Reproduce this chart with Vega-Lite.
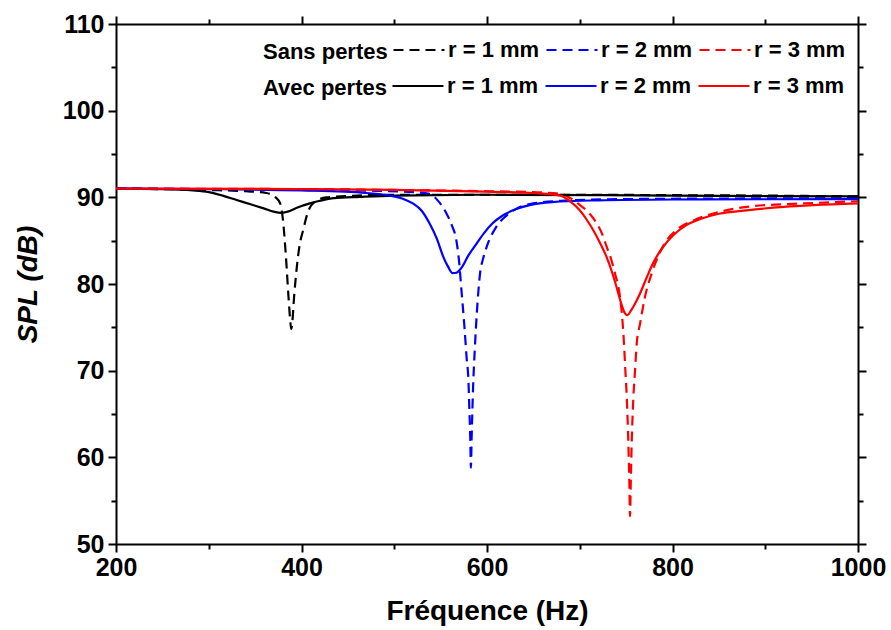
{
  "$schema": "https://vega.github.io/schema/vega-lite/v6.json",
  "width": 742,
  "height": 520,
  "autosize": "none",
  "padding": {"left": 116, "top": 24, "right": 33, "bottom": 86},
  "background": "white",
  "config": {
    "view": {"stroke": null},
    "font": "Liberation Sans",
    "axis": {
      "grid": false,
      "domainColor": "black",
      "domainWidth": 2,
      "tickColor": "black",
      "tickWidth": 2,
      "labelColor": "black",
      "titleColor": "black",
      "labelFont": "Liberation Sans",
      "labelFontWeight": "bold",
      "labelFontSize": 25,
      "titleFont": "Liberation Sans",
      "titleFontWeight": "bold",
      "titleFontSize": 28,
      "labelFlush": false,
      "labelOverlap": false,
      "format": "d"
    },
    "legend": {
      "orient": "none",
      "direction": "horizontal",
      "titleOrient": "left",
      "titleAnchor": "middle",
      "titleBaseline": "top",
      "titleFont": "Liberation Sans",
      "titleFontWeight": "bold",
      "titleFontSize": 22,
      "titleColor": "black",
      "labelFont": "Liberation Sans",
      "labelFontWeight": "bold",
      "labelFontSize": 22,
      "labelColor": "black",
      "symbolType": "stroke",
      "symbolSize": 2600,
      "symbolStrokeWidth": 2.2,
      "labelOffset": 2,
      "columnPadding": 2,
      "titlePadding": 4,
      "padding": 0
    }
  },
  "data": {
    "values": [
      {"perte": "Sans", "r": "r = 1 mm", "f": 200, "spl": 91.0},
      {"perte": "Sans", "r": "r = 1 mm", "f": 250, "spl": 90.95},
      {"perte": "Sans", "r": "r = 1 mm", "f": 300, "spl": 90.85},
      {"perte": "Sans", "r": "r = 1 mm", "f": 340, "spl": 90.7},
      {"perte": "Sans", "r": "r = 1 mm", "f": 362, "spl": 90.5},
      {"perte": "Sans", "r": "r = 1 mm", "f": 372, "spl": 90.0},
      {"perte": "Sans", "r": "r = 1 mm", "f": 377, "spl": 89.3},
      {"perte": "Sans", "r": "r = 1 mm", "f": 380, "spl": 87.4},
      {"perte": "Sans", "r": "r = 1 mm", "f": 383, "spl": 83.5},
      {"perte": "Sans", "r": "r = 1 mm", "f": 386, "spl": 78.5},
      {"perte": "Sans", "r": "r = 1 mm", "f": 388, "spl": 75.6},
      {"perte": "Sans", "r": "r = 1 mm", "f": 389, "spl": 74.8},
      {"perte": "Sans", "r": "r = 1 mm", "f": 390, "spl": 75.5},
      {"perte": "Sans", "r": "r = 1 mm", "f": 392, "spl": 78.5},
      {"perte": "Sans", "r": "r = 1 mm", "f": 395, "spl": 82.0},
      {"perte": "Sans", "r": "r = 1 mm", "f": 398, "spl": 84.5},
      {"perte": "Sans", "r": "r = 1 mm", "f": 402, "spl": 86.3},
      {"perte": "Sans", "r": "r = 1 mm", "f": 406, "spl": 88.0},
      {"perte": "Sans", "r": "r = 1 mm", "f": 410, "spl": 89.0},
      {"perte": "Sans", "r": "r = 1 mm", "f": 418, "spl": 89.7},
      {"perte": "Sans", "r": "r = 1 mm", "f": 427, "spl": 90.0},
      {"perte": "Sans", "r": "r = 1 mm", "f": 460, "spl": 90.2},
      {"perte": "Sans", "r": "r = 1 mm", "f": 500, "spl": 90.3},
      {"perte": "Sans", "r": "r = 1 mm", "f": 600, "spl": 90.3},
      {"perte": "Sans", "r": "r = 1 mm", "f": 700, "spl": 90.3},
      {"perte": "Sans", "r": "r = 1 mm", "f": 800, "spl": 90.25},
      {"perte": "Sans", "r": "r = 1 mm", "f": 900, "spl": 90.2},
      {"perte": "Sans", "r": "r = 1 mm", "f": 1000, "spl": 90.1},

      {"perte": "Sans", "r": "r = 2 mm", "f": 200, "spl": 91.0},
      {"perte": "Sans", "r": "r = 2 mm", "f": 300, "spl": 90.95},
      {"perte": "Sans", "r": "r = 2 mm", "f": 400, "spl": 90.85},
      {"perte": "Sans", "r": "r = 2 mm", "f": 480, "spl": 90.75},
      {"perte": "Sans", "r": "r = 2 mm", "f": 520, "spl": 90.6},
      {"perte": "Sans", "r": "r = 2 mm", "f": 538, "spl": 90.4},
      {"perte": "Sans", "r": "r = 2 mm", "f": 548, "spl": 89.5},
      {"perte": "Sans", "r": "r = 2 mm", "f": 556, "spl": 88.2},
      {"perte": "Sans", "r": "r = 2 mm", "f": 562, "spl": 86.8},
      {"perte": "Sans", "r": "r = 2 mm", "f": 567, "spl": 85.0},
      {"perte": "Sans", "r": "r = 2 mm", "f": 570, "spl": 82.5},
      {"perte": "Sans", "r": "r = 2 mm", "f": 572.5, "spl": 79.2},
      {"perte": "Sans", "r": "r = 2 mm", "f": 576, "spl": 74.6},
      {"perte": "Sans", "r": "r = 2 mm", "f": 578, "spl": 71.5},
      {"perte": "Sans", "r": "r = 2 mm", "f": 580, "spl": 68.8},
      {"perte": "Sans", "r": "r = 2 mm", "f": 581, "spl": 65.5},
      {"perte": "Sans", "r": "r = 2 mm", "f": 582, "spl": 62.0},
      {"perte": "Sans", "r": "r = 2 mm", "f": 582.6, "spl": 58.8},
      {"perte": "Sans", "r": "r = 2 mm", "f": 583.5, "spl": 62.5},
      {"perte": "Sans", "r": "r = 2 mm", "f": 585, "spl": 68.1},
      {"perte": "Sans", "r": "r = 2 mm", "f": 587, "spl": 72.8},
      {"perte": "Sans", "r": "r = 2 mm", "f": 589, "spl": 76.6},
      {"perte": "Sans", "r": "r = 2 mm", "f": 592.5, "spl": 81.2},
      {"perte": "Sans", "r": "r = 2 mm", "f": 596, "spl": 83.0},
      {"perte": "Sans", "r": "r = 2 mm", "f": 600, "spl": 84.4},
      {"perte": "Sans", "r": "r = 2 mm", "f": 610, "spl": 86.6},
      {"perte": "Sans", "r": "r = 2 mm", "f": 620, "spl": 87.8},
      {"perte": "Sans", "r": "r = 2 mm", "f": 632, "spl": 88.7},
      {"perte": "Sans", "r": "r = 2 mm", "f": 650, "spl": 89.3},
      {"perte": "Sans", "r": "r = 2 mm", "f": 680, "spl": 89.6},
      {"perte": "Sans", "r": "r = 2 mm", "f": 750, "spl": 89.8},
      {"perte": "Sans", "r": "r = 2 mm", "f": 1000, "spl": 89.9},

      {"perte": "Sans", "r": "r = 3 mm", "f": 200, "spl": 91.0},
      {"perte": "Sans", "r": "r = 3 mm", "f": 400, "spl": 90.95},
      {"perte": "Sans", "r": "r = 3 mm", "f": 500, "spl": 90.85},
      {"perte": "Sans", "r": "r = 3 mm", "f": 600, "spl": 90.7},
      {"perte": "Sans", "r": "r = 3 mm", "f": 650, "spl": 90.6},
      {"perte": "Sans", "r": "r = 3 mm", "f": 680, "spl": 90.4},
      {"perte": "Sans", "r": "r = 3 mm", "f": 690, "spl": 89.9},
      {"perte": "Sans", "r": "r = 3 mm", "f": 700.3, "spl": 89.1},
      {"perte": "Sans", "r": "r = 3 mm", "f": 710, "spl": 88.2},
      {"perte": "Sans", "r": "r = 3 mm", "f": 718.3, "spl": 87.0},
      {"perte": "Sans", "r": "r = 3 mm", "f": 724, "spl": 85.8},
      {"perte": "Sans", "r": "r = 3 mm", "f": 729, "spl": 84.3},
      {"perte": "Sans", "r": "r = 3 mm", "f": 734, "spl": 82.8},
      {"perte": "Sans", "r": "r = 3 mm", "f": 738, "spl": 81.2},
      {"perte": "Sans", "r": "r = 3 mm", "f": 743.4, "spl": 78.5},
      {"perte": "Sans", "r": "r = 3 mm", "f": 746.3, "spl": 75.4},
      {"perte": "Sans", "r": "r = 3 mm", "f": 747.7, "spl": 73.1},
      {"perte": "Sans", "r": "r = 3 mm", "f": 749.2, "spl": 70.0},
      {"perte": "Sans", "r": "r = 3 mm", "f": 750.7, "spl": 66.9},
      {"perte": "Sans", "r": "r = 3 mm", "f": 752.4, "spl": 61.6},
      {"perte": "Sans", "r": "r = 3 mm", "f": 753.5, "spl": 57.0},
      {"perte": "Sans", "r": "r = 3 mm", "f": 754.2, "spl": 53.2},
      {"perte": "Sans", "r": "r = 3 mm", "f": 755, "spl": 57.0},
      {"perte": "Sans", "r": "r = 3 mm", "f": 756, "spl": 61.6},
      {"perte": "Sans", "r": "r = 3 mm", "f": 757.8, "spl": 66.9},
      {"perte": "Sans", "r": "r = 3 mm", "f": 759.6, "spl": 70.0},
      {"perte": "Sans", "r": "r = 3 mm", "f": 761.4, "spl": 73.1},
      {"perte": "Sans", "r": "r = 3 mm", "f": 765, "spl": 75.4},
      {"perte": "Sans", "r": "r = 3 mm", "f": 770.3, "spl": 78.5},
      {"perte": "Sans", "r": "r = 3 mm", "f": 777.5, "spl": 81.2},
      {"perte": "Sans", "r": "r = 3 mm", "f": 790, "spl": 84.4},
      {"perte": "Sans", "r": "r = 3 mm", "f": 805, "spl": 86.3},
      {"perte": "Sans", "r": "r = 3 mm", "f": 822, "spl": 87.3},
      {"perte": "Sans", "r": "r = 3 mm", "f": 850, "spl": 88.3},
      {"perte": "Sans", "r": "r = 3 mm", "f": 880, "spl": 88.9},
      {"perte": "Sans", "r": "r = 3 mm", "f": 920, "spl": 89.2},
      {"perte": "Sans", "r": "r = 3 mm", "f": 952, "spl": 89.35},
      {"perte": "Sans", "r": "r = 3 mm", "f": 1000, "spl": 89.55},

      {"perte": "Avec", "r": "r = 1 mm", "f": 200, "spl": 91.0},
      {"perte": "Avec", "r": "r = 1 mm", "f": 250, "spl": 90.95},
      {"perte": "Avec", "r": "r = 1 mm", "f": 283, "spl": 90.8},
      {"perte": "Avec", "r": "r = 1 mm", "f": 300, "spl": 90.6},
      {"perte": "Avec", "r": "r = 1 mm", "f": 315, "spl": 90.2},
      {"perte": "Avec", "r": "r = 1 mm", "f": 330, "spl": 89.7},
      {"perte": "Avec", "r": "r = 1 mm", "f": 345, "spl": 89.2},
      {"perte": "Avec", "r": "r = 1 mm", "f": 360, "spl": 88.7},
      {"perte": "Avec", "r": "r = 1 mm", "f": 370, "spl": 88.35},
      {"perte": "Avec", "r": "r = 1 mm", "f": 378, "spl": 88.2},
      {"perte": "Avec", "r": "r = 1 mm", "f": 385, "spl": 88.35},
      {"perte": "Avec", "r": "r = 1 mm", "f": 395, "spl": 88.8},
      {"perte": "Avec", "r": "r = 1 mm", "f": 409, "spl": 89.3},
      {"perte": "Avec", "r": "r = 1 mm", "f": 420, "spl": 89.6},
      {"perte": "Avec", "r": "r = 1 mm", "f": 435, "spl": 89.9},
      {"perte": "Avec", "r": "r = 1 mm", "f": 463, "spl": 90.05},
      {"perte": "Avec", "r": "r = 1 mm", "f": 500, "spl": 90.2},
      {"perte": "Avec", "r": "r = 1 mm", "f": 600, "spl": 90.3},
      {"perte": "Avec", "r": "r = 1 mm", "f": 800, "spl": 90.2},
      {"perte": "Avec", "r": "r = 1 mm", "f": 1000, "spl": 90.1},

      {"perte": "Avec", "r": "r = 2 mm", "f": 200, "spl": 91.0},
      {"perte": "Avec", "r": "r = 2 mm", "f": 300, "spl": 90.95},
      {"perte": "Avec", "r": "r = 2 mm", "f": 400, "spl": 90.8},
      {"perte": "Avec", "r": "r = 2 mm", "f": 470, "spl": 90.5},
      {"perte": "Avec", "r": "r = 2 mm", "f": 495, "spl": 90.2},
      {"perte": "Avec", "r": "r = 2 mm", "f": 510, "spl": 89.8},
      {"perte": "Avec", "r": "r = 2 mm", "f": 520, "spl": 89.3},
      {"perte": "Avec", "r": "r = 2 mm", "f": 530, "spl": 88.4},
      {"perte": "Avec", "r": "r = 2 mm", "f": 538, "spl": 87.0},
      {"perte": "Avec", "r": "r = 2 mm", "f": 546, "spl": 85.2},
      {"perte": "Avec", "r": "r = 2 mm", "f": 553, "spl": 83.1},
      {"perte": "Avec", "r": "r = 2 mm", "f": 558, "spl": 82.0},
      {"perte": "Avec", "r": "r = 2 mm", "f": 563, "spl": 81.25},
      {"perte": "Avec", "r": "r = 2 mm", "f": 567, "spl": 81.3},
      {"perte": "Avec", "r": "r = 2 mm", "f": 572, "spl": 81.8},
      {"perte": "Avec", "r": "r = 2 mm", "f": 580, "spl": 83.3},
      {"perte": "Avec", "r": "r = 2 mm", "f": 589, "spl": 84.7},
      {"perte": "Avec", "r": "r = 2 mm", "f": 597, "spl": 85.9},
      {"perte": "Avec", "r": "r = 2 mm", "f": 606, "spl": 87.0},
      {"perte": "Avec", "r": "r = 2 mm", "f": 617, "spl": 87.9},
      {"perte": "Avec", "r": "r = 2 mm", "f": 628, "spl": 88.5},
      {"perte": "Avec", "r": "r = 2 mm", "f": 646, "spl": 89.1},
      {"perte": "Avec", "r": "r = 2 mm", "f": 670, "spl": 89.45},
      {"perte": "Avec", "r": "r = 2 mm", "f": 720, "spl": 89.65},
      {"perte": "Avec", "r": "r = 2 mm", "f": 800, "spl": 89.75},
      {"perte": "Avec", "r": "r = 2 mm", "f": 1000, "spl": 89.8},

      {"perte": "Avec", "r": "r = 3 mm", "f": 200, "spl": 91.0},
      {"perte": "Avec", "r": "r = 3 mm", "f": 400, "spl": 90.95},
      {"perte": "Avec", "r": "r = 3 mm", "f": 500, "spl": 90.85},
      {"perte": "Avec", "r": "r = 3 mm", "f": 600, "spl": 90.65},
      {"perte": "Avec", "r": "r = 3 mm", "f": 650, "spl": 90.5},
      {"perte": "Avec", "r": "r = 3 mm", "f": 679, "spl": 90.2},
      {"perte": "Avec", "r": "r = 3 mm", "f": 690, "spl": 89.5},
      {"perte": "Avec", "r": "r = 3 mm", "f": 700, "spl": 88.5},
      {"perte": "Avec", "r": "r = 3 mm", "f": 707, "spl": 87.5},
      {"perte": "Avec", "r": "r = 3 mm", "f": 714.6, "spl": 86.2},
      {"perte": "Avec", "r": "r = 3 mm", "f": 722, "spl": 84.7},
      {"perte": "Avec", "r": "r = 3 mm", "f": 729, "spl": 83.1},
      {"perte": "Avec", "r": "r = 3 mm", "f": 735, "spl": 81.3},
      {"perte": "Avec", "r": "r = 3 mm", "f": 739.8, "spl": 79.6},
      {"perte": "Avec", "r": "r = 3 mm", "f": 744, "spl": 78.0},
      {"perte": "Avec", "r": "r = 3 mm", "f": 748.8, "spl": 76.6},
      {"perte": "Avec", "r": "r = 3 mm", "f": 751.4, "spl": 76.4},
      {"perte": "Avec", "r": "r = 3 mm", "f": 755, "spl": 76.9},
      {"perte": "Avec", "r": "r = 3 mm", "f": 760, "spl": 77.8},
      {"perte": "Avec", "r": "r = 3 mm", "f": 765, "spl": 78.9},
      {"perte": "Avec", "r": "r = 3 mm", "f": 772, "spl": 80.7},
      {"perte": "Avec", "r": "r = 3 mm", "f": 779, "spl": 82.4},
      {"perte": "Avec", "r": "r = 3 mm", "f": 790, "spl": 84.3},
      {"perte": "Avec", "r": "r = 3 mm", "f": 800.5, "spl": 85.6},
      {"perte": "Avec", "r": "r = 3 mm", "f": 815, "spl": 86.8},
      {"perte": "Avec", "r": "r = 3 mm", "f": 830, "spl": 87.5},
      {"perte": "Avec", "r": "r = 3 mm", "f": 850, "spl": 88.1},
      {"perte": "Avec", "r": "r = 3 mm", "f": 880, "spl": 88.5},
      {"perte": "Avec", "r": "r = 3 mm", "f": 920, "spl": 88.9},
      {"perte": "Avec", "r": "r = 3 mm", "f": 952, "spl": 89.1},
      {"perte": "Avec", "r": "r = 3 mm", "f": 1000, "spl": 89.3}
    ]
  },
  "layer": [
    {
      "transform": [{"filter": "datum.perte == 'Sans'"}],
      "mark": {"type": "line", "strokeDash": [10, 6], "strokeWidth": 2.2, "interpolate": "monotone", "clip": true},
      "encoding": {
        "x": {"field": "f", "type": "quantitative", "scale": {"domain": [200, 1000], "nice": false, "zero": false}, "axis": null},
        "y": {"field": "spl", "type": "quantitative", "scale": {"domain": [50, 110], "nice": false, "zero": false}, "axis": null},
        "color": {
          "field": "r", "type": "nominal",
          "scale": {"domain": ["r = 1 mm", "r = 2 mm", "r = 3 mm"], "range": ["#000000", "#0000ff", "#ff0000"]},
          "legend": {"title": "Sans pertes", "legendX": 147, "legendY": -1, "symbolDash": [10, 6]}
        }
      }
    },
    {
      "transform": [{"filter": "datum.perte == 'Avec'"}],
      "mark": {"type": "line", "strokeWidth": 2.2, "interpolate": "monotone", "clip": true},
      "encoding": {
        "x": {"field": "f", "type": "quantitative", "scale": {"domain": [200, 1000], "nice": false, "zero": false},
              "axis": {"orient": "bottom", "values": [200, 400, 600, 800, 1000], "tickSize": 8, "labelPadding": 3, "title": "Fréquence (Hz)", "titlePadding": 17}},
        "y": {"field": "spl", "type": "quantitative", "scale": {"domain": [50, 110], "nice": false, "zero": false},
              "axis": {"orient": "left", "values": [50, 60, 70, 80, 90, 100, 110], "tickSize": 8, "labelPadding": 4, "title": "SPL (dB)", "titleFontStyle": "italic", "titlePadding": 20}},
        "color": {
          "field": "r", "type": "nominal",
          "scale": {"domain": ["r = 1 mm", "r = 2 mm", "r = 3 mm"], "range": ["#000000", "#0000ff", "#ff0000"]},
          "legend": {"title": "Avec pertes", "legendX": 147, "legendY": 35}
        }
      }
    },
    {
      "mark": {"type": "point", "opacity": 0},
      "encoding": {
        "x": {"field": "f", "type": "quantitative", "scale": {"domain": [200, 1000], "nice": false, "zero": false},
              "axis": {"orient": "top", "values": [200, 400, 600, 800, 1000], "tickSize": 8, "labels": false, "title": null}},
        "y": {"field": "spl", "type": "quantitative", "scale": {"domain": [50, 110], "nice": false, "zero": false},
              "axis": {"orient": "right", "values": [50, 60, 70, 80, 90, 100, 110], "tickSize": 8, "labels": false, "title": null}}
      }
    },
    {
      "mark": {"type": "point", "opacity": 0},
      "encoding": {
        "x": {"field": "f", "type": "quantitative", "scale": {"domain": [200, 1000], "nice": false, "zero": false},
              "axis": {"orient": "bottom", "values": [300, 500, 700, 900], "tickSize": 5, "labels": false, "domain": false, "title": null}},
        "y": {"field": "spl", "type": "quantitative", "scale": {"domain": [50, 110], "nice": false, "zero": false},
              "axis": {"orient": "left", "values": [55, 65, 75, 85, 95, 105], "tickSize": 5, "labels": false, "domain": false, "title": null}}
      }
    },
    {
      "mark": {"type": "point", "opacity": 0},
      "encoding": {
        "x": {"field": "f", "type": "quantitative", "scale": {"domain": [200, 1000], "nice": false, "zero": false},
              "axis": {"orient": "top", "values": [300, 500, 700, 900], "tickSize": 5, "labels": false, "domain": false, "title": null}},
        "y": {"field": "spl", "type": "quantitative", "scale": {"domain": [50, 110], "nice": false, "zero": false},
              "axis": {"orient": "right", "values": [55, 65, 75, 85, 95, 105], "tickSize": 5, "labels": false, "domain": false, "title": null}}
      }
    }
  ],
  "resolve": {
    "scale": {"color": "independent"},
    "legend": {"color": "independent"},
    "axis": {"x": "independent", "y": "independent"}
  }
}
